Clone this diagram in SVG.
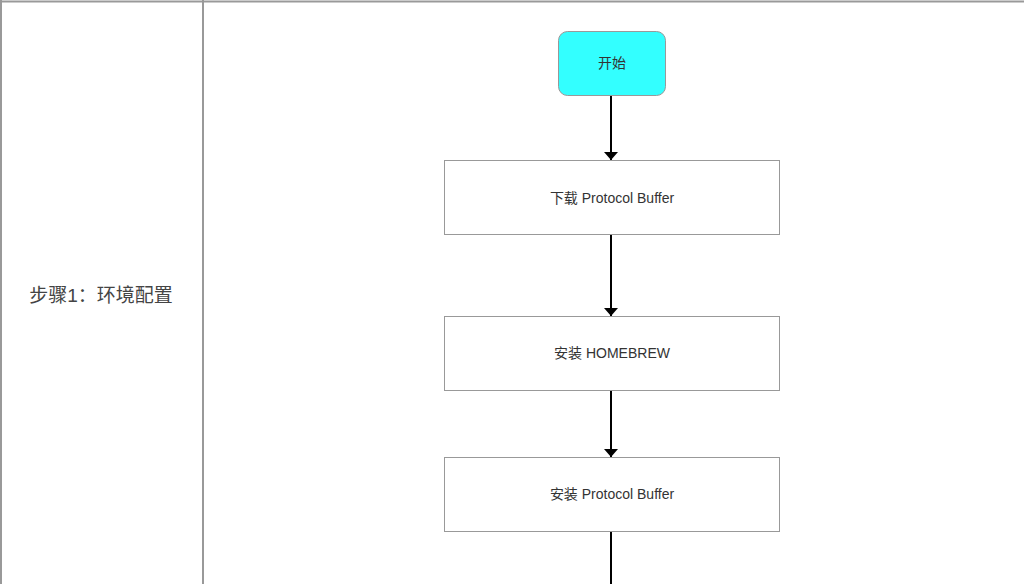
<svg xmlns="http://www.w3.org/2000/svg" width="1024" height="584" viewBox="0 0 1024 584">
<style>
.lane{stroke:#999;stroke-width:2;fill:none}
.box{fill:#fff;stroke:#999;stroke-width:1}
.start{fill:#33ffff;stroke:#999;stroke-width:1}
.t{font-family:"Liberation Sans","Noto Sans CJK SC",sans-serif;font-size:14px;fill:#333;text-anchor:middle;dominant-baseline:central}
.lab{font-family:"Liberation Sans","Noto Sans CJK SC",sans-serif;font-size:19px;fill:#444;text-anchor:middle;dominant-baseline:central}
.c{stroke:#000;stroke-width:2;fill:none}
</style>
<defs>
<marker id="ah" markerWidth="4" markerHeight="7" refX="4" refY="3.5" orient="auto" markerUnits="strokeWidth">
<path d="M0,0 L4,3.5 L0,7 Z" fill="#000"/>
</marker>
</defs>
<g id="lanes">
<line class="lane" x1="0" y1="1.5" x2="1024" y2="1.5"/>
<line class="lane" x1="1" y1="0" x2="1" y2="584"/>
<line class="lane" x1="203" y1="0" x2="203" y2="584"/>
<text class="lab" x="101" y="295">步骤1：环境配置</text>
</g>
<g id="connectors">
<line class="c" x1="611" y1="96" x2="611" y2="160" marker-end="url(#ah)"/>
<line class="c" x1="611" y1="235" x2="611" y2="316" marker-end="url(#ah)"/>
<line class="c" x1="611" y1="391" x2="611" y2="457" marker-end="url(#ah)"/>
<line class="c" x1="611" y1="531" x2="611" y2="584"/>
</g>
<g id="start">
<rect class="start" x="558.5" y="31.5" width="107" height="64" rx="9"/>
<text class="t" x="612" y="63">开始</text>
</g>
<g id="download">
<rect class="box" x="444.5" y="160.5" width="335" height="74"/>
<text class="t" x="612" y="198">下载 Protocol Buffer</text>
</g>
<g id="homebrew">
<rect class="box" x="444.5" y="316.5" width="335" height="74"/>
<text class="t" x="612" y="353">安装 HOMEBREW</text>
</g>
<g id="install">
<rect class="box" x="444.5" y="457.5" width="335" height="74"/>
<text class="t" x="612" y="494">安装 Protocol Buffer</text>
</g>
</svg>
